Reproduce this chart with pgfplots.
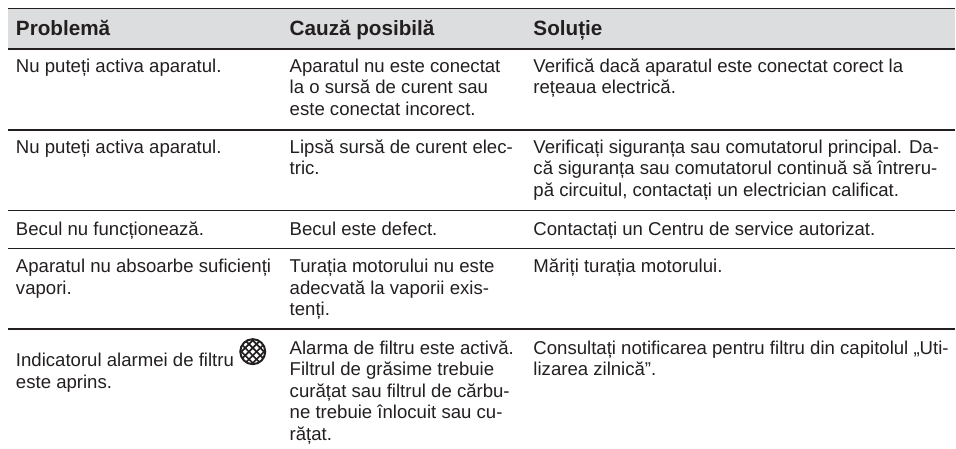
\documentclass[border=0pt]{standalone}
\usepackage{fontspec}
\setmainfont{Liberation Sans}
\usepackage{pgfplots}
\pgfplotsset{compat=1.18}
\definecolor{ink}{HTML}{231F20}
\definecolor{hdr}{HTML}{DCDDDE}
\newcommand{\T}[3]{\node[anchor=base west,inner sep=0pt,outer sep=0pt,text=ink,font=\fontsize{18.6}{21}\selectfont] at (axis cs:#1,#2) {#3};}
\newcommand{\B}[3]{\node[anchor=base west,inner sep=0pt,outer sep=0pt,text=ink,font=\fontsize{20.7}{24}\selectfont\bfseries] at (axis cs:#1,#2) {#3};}
\newcommand{\Hl}[4]{\draw[ink,line width=1.7pt] (axis cs:#1,#2) -- (axis cs:#3,#4);}
\begin{document}
\begin{tikzpicture}
\begin{axis}[scale only axis,width=956pt,height=449pt,xmin=0,xmax=956,ymin=0,ymax=449,y dir=reverse,hide axis,clip=false]
\path (axis cs:0,0) (axis cs:956,449);
\addplot[draw=none,fill=hdr] coordinates {(8,9) (956,9) (956,49) (8,49)} -- cycle;
\addplot[ink,line width=1.5pt] coordinates {(8,8.7) (956,8.7)};
\addplot[ink,line width=1.5pt] coordinates {(8,49.3) (956,49.3)};
\addplot[ink,line width=1.9pt] coordinates {(8,129.7) (956,129.7)};
\addplot[ink,line width=1.9pt] coordinates {(8,210.7) (956,210.7)};
\addplot[ink,line width=1.9pt] coordinates {(8,248.7) (956,248.7)};
\addplot[ink,line width=1.9pt] coordinates {(8,329.7) (956,329.7)};
\B{16}{35.3}{Problemă}
\B{290}{35.3}{Cauză posibilă}
\B{534}{35.3}{Soluție}
\T{16}{72.7}{Nu puteți activa aparatul.}
\T{290}{72.7}{Aparatul nu este conectat}
\T{290}{94}{la o sursă de curent sau}
\T{290}{115.3}{este conectat incorect.}
\T{534}{72.7}{Verifică dacă aparatul este conectat corect la}
\T{534}{94}{rețeaua electrică.}
\T{16}{153.7}{Nu puteți activa aparatul.}
\T{290}{153.7}{Lipsă sursă de curent elec-}
\T{290}{175}{tric.}
\T{534}{153.7}{Verificați siguranța sau comutatorul principal. Da-}
\T{534}{175}{că siguranța sau comutatorul continuă să întreru-}
\T{534}{196.5}{pă circuitul, contactați un electrician calificat.}
\T{16}{236}{Becul nu funcționează.}
\T{290}{236}{Becul este defect.}
\T{534}{236}{Contactați un Centru de service autorizat.}
\T{16}{273}{Aparatul nu absoarbe suficienți}
\T{16}{294.5}{vapori.}
\T{290}{273}{Turația motorului nu este}
\T{290}{294.5}{adecvată la vaporii exis-}
\T{290}{316}{tenți.}
\T{534}{273}{Măriți turația motorului.}
\T{16}{367}{Indicatorul alarmei de filtru}
\T{16}{388.7}{este aprins.}
\T{290}{354.5}{Alarma de filtru este activă.}
\T{290}{376}{Filtrul de grăsime trebuie}
\T{290}{397.5}{curățat sau filtrul de cărbu-}
\T{290}{419}{ne trebuie înlocuit sau cu-}
\T{290}{440.5}{rățat.}
\T{534}{354.5}{Consultați notificarea pentru filtru din capitolul „Uti-}
\T{534}{376}{lizarea zilnică”.}
\Hl{246.64}{341.82}{263.18}{358.36}
\Hl{242.82}{345.64}{259.36}{362.18}
\Hl{252.34}{340.02}{264.98}{352.66}
\Hl{241.02}{351.34}{253.66}{363.98}
\Hl{259.36}{341.82}{242.82}{358.36}
\Hl{263.18}{345.64}{246.64}{362.18}
\Hl{253.66}{340.02}{241.02}{352.66}
\Hl{264.98}{351.34}{252.34}{363.98}
\node[circle,draw=ink,line width=2pt,minimum size=25pt,inner sep=0pt] at (axis cs:253,352) {};
\end{axis}
\end{tikzpicture}
\end{document}
